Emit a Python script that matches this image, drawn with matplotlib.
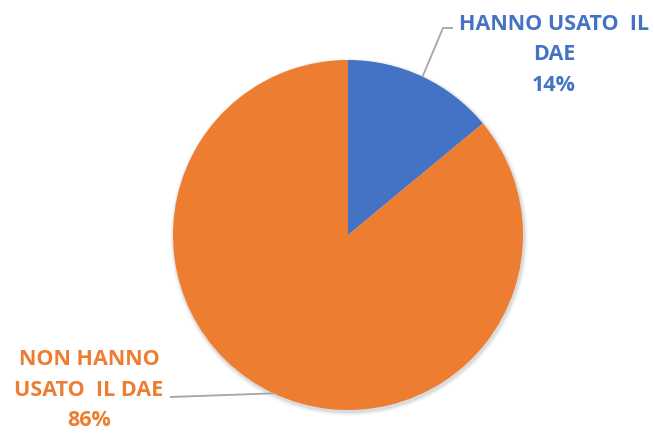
import numpy as np
import matplotlib
matplotlib.use("Agg")
import matplotlib.pyplot as plt
from matplotlib.patches import Circle

categories = ["HANNO USATO  IL\nDAE", "NON HANNO\nUSATO  IL DAE"]
shares = [14, 86]
colors = ["#4472C4", "#ED7D31"]

W, H = 654, 434
fig = plt.figure(figsize=(W / 100, H / 100), dpi=100)
ax = fig.add_axes([0, 0, 1, 1])

cx, cy, r = 348, 199, 175

# soft shadow around the disc
for i, a in enumerate([0.05, 0.04, 0.03, 0.02]):
    ax.add_patch(Circle((cx + 1, cy - 2), r + 1 + i, color="#000000", alpha=a, lw=0, zorder=0))

wedges, _ = ax.pie(shares, colors=colors, startangle=90, counterclock=False,
                   center=(cx, cy), radius=r, frame=True,
                   wedgeprops=dict(linewidth=0))
ax.set_xlim(0, W)
ax.set_ylim(0, H)
ax.set_aspect("equal")
ax.axis("off")

font = dict(family="Open Sans", weight="bold", fontsize=15.5, linespacing=1.62)

# label placement and leader lines
text_pos = [(554, H - 55), (89, H - 390)]
for w, cat, val, col, (tx, ty) in zip(wedges, categories, shares, colors, text_pos):
    mid = np.deg2rad((w.theta1 + w.theta2) / 2)
    ex, ey = cx + r * np.cos(mid), cy + r * np.sin(mid)
    if np.cos(mid) > 0:
        pts_x = [ex, 443, 453]
        pts_y = [ey, H - 28, H - 28]
    else:
        pts_x = [ex, 170]
        pts_y = [ey, H - 397]
    ax.plot(pts_x, pts_y, color="#A5A5A5", lw=1.3, zorder=1, solid_capstyle="butt")
    ax.text(tx, ty, f"{cat}\n{val}%", color=col, ha="center", va="center", **font)

fig.savefig("out.png", dpi=100)
